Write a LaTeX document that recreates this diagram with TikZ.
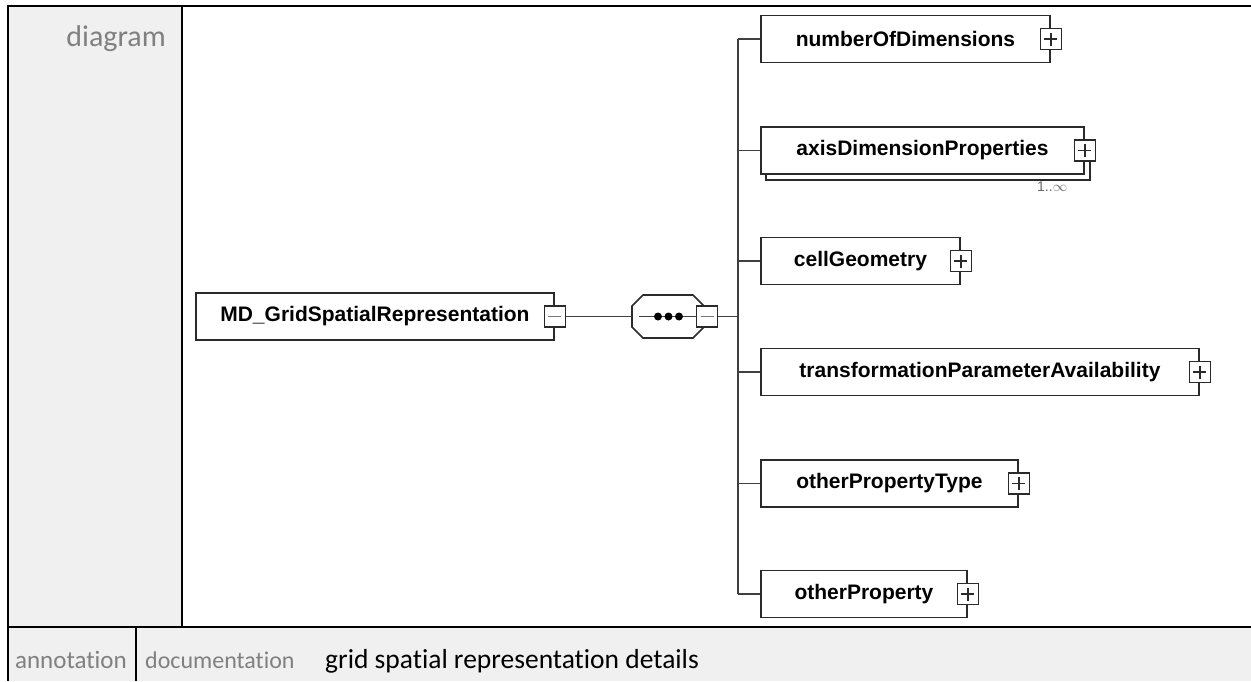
\documentclass[tikz,border=0pt]{standalone}
\usepackage{fontspec}
\setmainfont{Carlito}[Ligatures={NoCommon}]
\newfontfamily\elemfamily{Liberation Sans}
\definecolor{cellg}{HTML}{F0F0F0}
\definecolor{greytxt}{HTML}{808080}
\definecolor{boxc}{HTML}{2A2A2A}
\definecolor{linec}{HTML}{404040}
\tikzset{
  tline/.style={draw=black, line width=2.4pt},
  lbl/.style={text=greytxt, inner sep=0pt, font=\fontsize{25}{25}\selectfont},
  valtxt/.style={text=black, inner sep=0pt, font=\fontsize{27.5}{27.5}\selectfont},
  elem/.style={draw=boxc, line width=1.9pt, fill=white, minimum height=47pt, inner sep=0pt, anchor=west,
    font=\elemfamily\bfseries\fontsize{21}{21}\selectfont},
  pbox/.style={draw=boxc, line width=1.5pt, fill=white, minimum width=21pt, minimum height=21pt, inner sep=0pt},
  plusbox/.style={pbox, path picture={
      \draw[boxc, line width=1.4pt] ([xshift=-6.5pt]path picture bounding box.center) -- ([xshift=6.5pt]path picture bounding box.center);
      \draw[boxc, line width=1.4pt] ([yshift=-6.5pt]path picture bounding box.center) -- ([yshift=6.5pt]path picture bounding box.center);}},
  minusbox/.style={pbox, path picture={
      \draw[linec!70, line width=1.8pt] ([xshift=-6.5pt]path picture bounding box.center) -- ([xshift=6.5pt]path picture bounding box.center);}},
  conn/.style={draw=linec, line width=1.6pt},
  mult/.style={text=linec!80, inner sep=0pt, font=\elemfamily\fontsize{14}{14}\selectfont},
}
\begin{document}
\begin{tikzpicture}[x=1pt, y=-1pt]
\useasboundingbox (0,0) rectangle (1251,681);
% table
\fill[cellg] (8,6) rectangle (182,627);
\fill[cellg] (8,627) rectangle (1251,681);
\draw[tline] (7,6) -- (1251,6);
\draw[tline] (8,6) -- (8,681);
\draw[tline] (182,6) -- (182,627);
\draw[tline] (8,627) -- (1251,627);
\draw[tline] (136,627) -- (136,681);
\node[lbl, anchor=base east, font=\fontsize{30}{30}\selectfont] (tdiag) at (166,46) {diagram};
\node[lbl, anchor=base east] (tann) at (127,668) {annotation};
\node[lbl, anchor=base west, font=\fontsize{24}{24}\selectfont] (tdoc) at (145,668) {documentation};
\node[valtxt, anchor=base west] (tval) at (325,668) {grid spatial representation details};

% root element
\node[elem, minimum width=358pt] (md) at (195,316.5) {MD\_GridSpatialRepresentation};
\node[minusbox] (mdm) at (md.east) {};

% sequence compositor
\node[minimum width=72pt, minimum height=43pt, inner sep=0pt] (seq) at (668,316.5) {};
\draw[boxc, line width=1.7pt, fill=white] (643,295) -- (693,295) -- (704,306) -- (704,327) -- (693,338) -- (643,338) -- (632,327) -- (632,306) -- cycle;
\node[minusbox] (seqm) at (707,316.5) {};
\coordinate (seqin) at (639,316.5);
\draw[conn] (seqin) -- (seqm.west);
\foreach \x in {658,668.5,679} \fill[black] (\x,316.5) circle (4pt);
\draw[conn] (mdm.east) -- (seq.west);

% children
\coordinate (spine) at (738,316.5);
\node[elem, minimum width=289pt] (nod) at (760,39) {numberOfDimensions};
\node[plusbox] (nodp) at (nod.east) {};

\draw[boxc, line width=1.9pt, fill=white] (766,156.3) rectangle (1090,180);
\node[elem, minimum width=323pt] (adp) at (760,150.3) {axisDimensionProperties};
\node[plusbox] (adpp) at (adp.east) {};
\node[mult, anchor=north west] (adpmult) at (1037,182) {1..\(\infty\)};

\node[elem, minimum width=199pt] (cg) at (760,261) {cellGeometry};
\node[plusbox] (cgp) at (cg.east) {};

\node[elem, minimum width=438pt] (tpa) at (760,372) {transformationParameterAvailability};
\node[plusbox] (tpap) at (tpa.east) {};

\node[elem, minimum width=257pt] (opt) at (760,483.5) {otherPropertyType};
\node[plusbox] (optp) at (opt.east) {};

\node[elem, minimum width=206pt] (op) at (760,594) {otherProperty};
\node[plusbox] (opp) at (op.east) {};

\draw[conn] (seqm.east) -- (spine);
\draw[conn] (nod.west -| spine) -- (op.west -| spine);
\foreach \n in {nod,adp,cg,tpa,opt,op} \draw[conn] (\n.west -| spine) -- (\n.west);
\end{tikzpicture}
\end{document}
